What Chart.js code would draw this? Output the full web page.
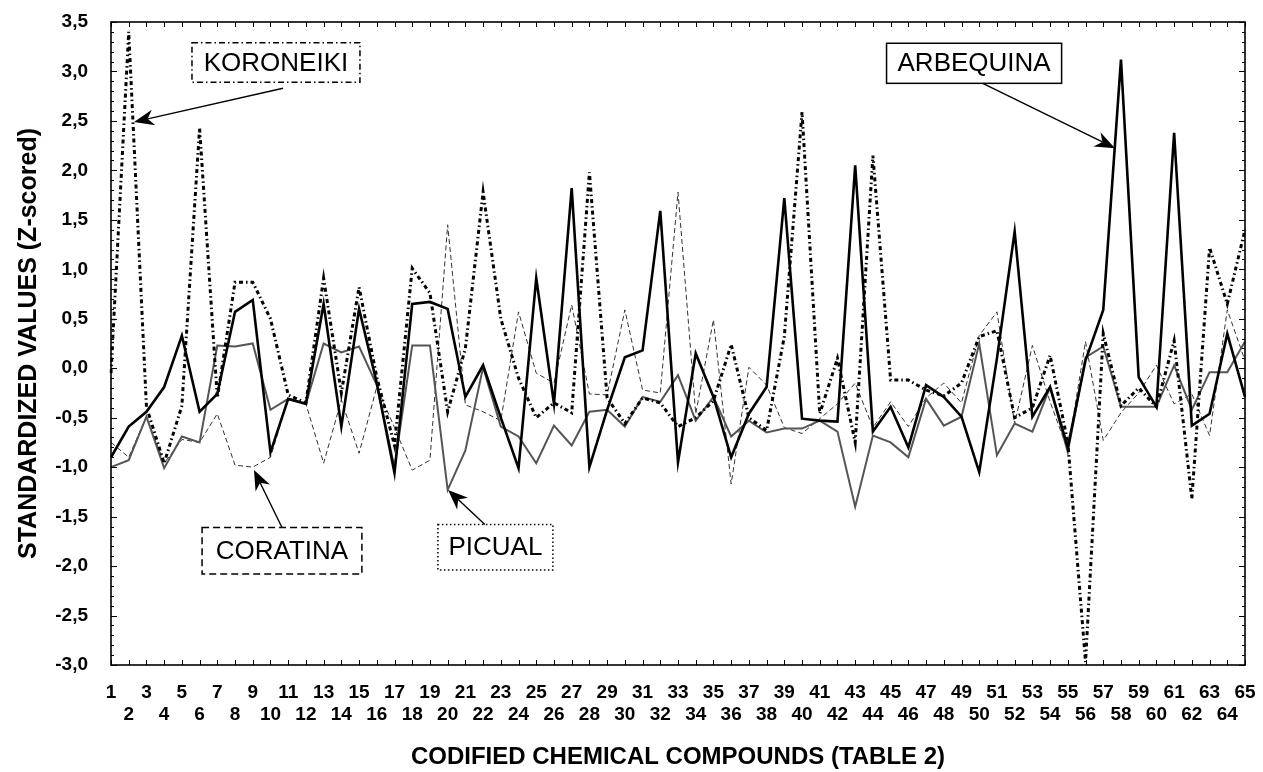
<!DOCTYPE html>
<html><head><meta charset="utf-8">
<script src="https://cdn.jsdelivr.net/npm/chart.js@4.4.1/dist/chart.umd.min.js"></script>
<style>html,body{margin:0;padding:0;background:#fff;}#wrap{position:relative;width:1263px;height:772px;}</style>
</head><body><div id="wrap"><canvas id="c" width="1263" height="772"></canvas></div>
<script>
const categories = ['1','2','3','4','5','6','7','8','9','10','11','12','13','14','15','16','17','18','19','20','21','22','23','24','25','26','27','28','29','30','31','32','33','34','35','36','37','38','39','40','41','42','43','44','45','46','47','48','49','50','51','52','53','54','55','56','57','58','59','60','61','62','63','64','65'];

const arbequina = [-0.90,-0.59,-0.44,-0.19,0.33,-0.44,-0.26,0.57,0.69,-0.85,-0.31,-0.36,0.65,-0.59,0.60,-0.15,-1.06,0.65,0.67,0.60,-0.29,0.03,-0.50,-1.01,0.91,-0.36,1.82,-1.00,-0.42,0.11,0.18,1.59,-0.95,0.15,-0.29,-0.90,-0.46,-0.19,1.72,-0.51,-0.53,-0.54,2.05,-0.64,-0.39,-0.80,-0.17,-0.29,-0.49,-1.05,0.10,1.38,-0.49,-0.19,-0.80,0.08,0.59,3.12,-0.09,-0.39,2.38,-0.58,-0.46,0.35,-0.29];

const koroneiki = [-0.05,3.40,-0.39,-0.96,-0.38,2.43,-0.30,0.87,0.87,0.50,-0.27,-0.35,0.91,-0.25,0.82,-0.09,-0.78,1.01,0.76,-0.44,0.20,1.78,0.50,-0.10,-0.50,-0.35,-0.45,1.98,-0.30,-0.56,-0.30,-0.35,-0.59,-0.50,-0.33,0.24,-0.50,-0.63,0.32,2.59,-0.46,0.10,-0.75,2.15,-0.12,-0.12,-0.22,-0.28,-0.15,0.32,0.38,-0.50,-0.40,0.13,-0.75,-2.97,0.35,-0.38,-0.20,-0.39,0.28,-1.32,1.22,0.65,1.40];

const coratina = [-0.75,-0.90,-0.49,-0.96,-0.72,-0.75,-0.46,-0.98,-1.00,-0.90,-0.31,-0.36,-0.96,-0.32,-0.86,-0.19,-0.60,-1.03,-0.93,1.45,-0.37,-0.44,-0.53,0.57,-0.05,-0.15,0.64,-0.26,-0.27,0.59,-0.22,-0.25,1.78,-0.46,0.49,-1.17,0.01,-0.17,-0.60,-0.66,-0.51,-0.36,-0.15,-0.60,-0.34,-0.59,-0.30,-0.15,-0.35,0.33,0.57,-0.56,0.23,-0.34,-0.83,0.27,-0.73,-0.45,-0.25,0.03,-0.36,-0.26,-0.68,0.59,0.08];

const picual = [-1.00,-0.93,-0.49,-1.01,-0.69,-0.75,0.23,0.22,0.25,-0.42,-0.31,-0.36,0.25,0.16,0.22,-0.17,-1.00,0.23,0.23,-1.23,-0.83,0.01,-0.59,-0.69,-0.96,-0.58,-0.78,-0.44,-0.42,-0.59,-0.29,-0.34,-0.07,-0.53,-0.29,-0.69,-0.53,-0.65,-0.61,-0.61,-0.53,-0.64,-1.40,-0.68,-0.75,-0.90,-0.31,-0.58,-0.49,0.25,-0.88,-0.56,-0.64,-0.19,-0.85,0.11,0.22,-0.39,-0.39,-0.39,0.03,-0.42,-0.04,-0.04,0.27];

const yMin = -3.0, yMax = 3.5, yStep = 0.5;

// annotation boxes in data units: [x-from, x-to] (category index units), [y-top, y-bottom]
const notes = [
  {text:'KORONEIKI', bx:[4.57,14.05], by:[3.29,2.89], from:[9.71,2.83], to:[1.30,2.49], dash:[6,3,1.5,3]},
  {text:'ARBEQUINA', bx:[43.77,53.65], by:[3.285,2.88], from:[49.2,2.88], to:[56.66,2.225], dash:[]},
  {text:'CORATINA', bx:[5.14,14.16], by:[-1.61,-2.08], from:[9.65,-1.61], to:[8.07,-1.03], dash:[7,4]},
  {text:'PICUAL', bx:[18.45,24.94], by:[-1.58,-2.04], from:[21.1,-1.58], to:[19.02,-1.23], dash:[1.5,2.5]}
];

const FONT = "'Liberation Sans', Arial, sans-serif";

const frameTicks = {
  id:'frameTicks',
  afterDatasetsDraw(chart){
    const {ctx, chartArea:{left,right,top,bottom}, scales:{x,y}} = chart;
    ctx.save();
    ctx.strokeStyle='#000';
    ctx.lineWidth=1;
    ctx.beginPath();
    for(let i=0;i<categories.length;i++){
      const px = Math.round(x.getPixelForValue(i))+0.5;
      ctx.moveTo(px,bottom); ctx.lineTo(px,bottom-5);
      ctx.moveTo(px,top); ctx.lineTo(px,top+5);
    }
    const n = Math.round((yMax-yMin)/0.1);
    for(let k=0;k<=n;k++){
      const py = Math.round(y.getPixelForValue(yMin+k*0.1))+0.5;
      const len = (k%5===0)?6:3;
      ctx.moveTo(left,py); ctx.lineTo(left+len,py);
      ctx.moveTo(right,py); ctx.lineTo(right-len,py);
    }
    ctx.stroke();
    ctx.lineWidth=1.6;
    ctx.strokeRect(left,top,right-left,bottom-top);
    ctx.restore();
  }
};

function arrow(ctx, x1,y1,x2,y2){
  const ang = Math.atan2(y2-y1,x2-x1);
  const L = 20, W = 8;
  const bx = x2 - L*Math.cos(ang), by = y2 - L*Math.sin(ang);
  const nx = x2 - 0.7*L*Math.cos(ang), ny = y2 - 0.7*L*Math.sin(ang);
  ctx.beginPath();
  ctx.moveTo(x1,y1); ctx.lineTo(nx,ny);
  ctx.lineWidth=1.4; ctx.setLineDash([]); ctx.stroke();
  ctx.beginPath();
  ctx.moveTo(x2,y2);
  ctx.lineTo(bx - W*Math.sin(ang), by + W*Math.cos(ang));
  ctx.lineTo(nx,ny);
  ctx.lineTo(bx + W*Math.sin(ang), by - W*Math.cos(ang));
  ctx.closePath();
  ctx.fill();
}

const annot = {
  id:'annot',
  afterDraw(chart){
    const {ctx, scales:{x,y}} = chart;
    ctx.save();
    ctx.fillStyle='#000'; ctx.strokeStyle='#000';
    notes.forEach(n=>{
      const x1 = x.getPixelForValue(n.bx[0]), x2 = x.getPixelForValue(n.bx[1]);
      const y1 = y.getPixelForValue(n.by[0]), y2 = y.getPixelForValue(n.by[1]);
      ctx.fillStyle='#fff';
      ctx.fillRect(x1,y1,x2-x1,y2-y1);
      ctx.fillStyle='#000';
      ctx.lineWidth=1.5;
      ctx.setLineDash(n.dash);
      ctx.strokeRect(x1,y1,x2-x1,y2-y1);
      ctx.setLineDash([]);
      ctx.font = "26px " + FONT;
      ctx.textAlign='center'; ctx.textBaseline='middle';
      ctx.fillText(n.text,(x1+x2)/2,(y1+y2)/2+1);
      arrow(ctx, x.getPixelForValue(n.from[0]), y.getPixelForValue(n.from[1]), x.getPixelForValue(n.to[0]), y.getPixelForValue(n.to[1]));
    });
    ctx.restore();
  }
};

new Chart(document.getElementById('c'), {
  type:'line',
  data:{
    labels: categories,
    datasets:[
      {label:'ARBEQUINA', data:arbequina, borderColor:'#000', borderWidth:2.6, pointRadius:0, tension:0, fill:false},
      {label:'KORONEIKI', data:koroneiki, borderColor:'#000', borderWidth:3, borderDash:[4,3,1.5,3], pointRadius:0, tension:0, fill:false},
      {label:'PICUAL', data:picual, borderColor:'#555', borderWidth:2, pointRadius:0, tension:0, fill:false},
      {label:'CORATINA', data:coratina, borderColor:'#333', borderWidth:1, borderDash:[5,3], pointRadius:0, tension:0, fill:false}
    ]
  },
  options:{
    responsive:false,
    animation:false,
    layout:{padding:{top:22,right:18,left:0,bottom:0}},
    plugins:{legend:{display:false}, tooltip:{enabled:false}},
    scales:{
      x:{
        type:'category',
        offset:false,
        grid:{display:false},
        border:{display:false},
        ticks:{
          autoSkip:false, maxRotation:0, minRotation:0, padding:9, color:'#000',
          font:{family:FONT, size:19, weight:'bold', lineHeight:1.15},
          callback:function(v,i){ const l = categories[i]; return (i%2===0)?[l,'']:['',l]; }
        },
        title:{display:true, text:'CODIFIED CHEMICAL COMPOUNDS (TABLE 2)', color:'#000', font:{family:FONT,size:24,weight:'bold'}, padding:{top:0,bottom:0}},
        afterFit(s){ s.height = 107; s.paddingLeft = 0; s.paddingRight = 0; }
      },
      y:{
        min:yMin, max:yMax,
        grid:{display:false},
        border:{display:false},
        ticks:{stepSize:yStep, padding:15, color:'#000', font:{family:FONT,size:19,weight:'bold'},
          callback:function(v){ return v.toFixed(1).replace('.',','); }},
        title:{display:true, text:'STANDARDIZED VALUES (Z-scored)', color:'#000', font:{family:FONT,size:25,weight:'bold'}, padding:{top:14,bottom:0}},
        afterFit(s){ s.width = 111; s.paddingTop = 0; s.paddingBottom = 0; }
      }
    }
  },
  plugins:[frameTicks, annot]
});
</script>
</body></html>
